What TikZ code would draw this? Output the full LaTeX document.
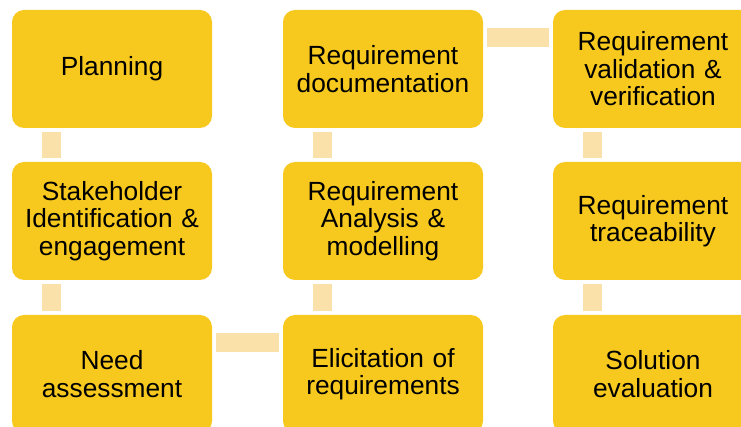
\documentclass[tikz,border=0pt]{standalone}
\usepackage{fontspec}
\setmainfont{Liberation Sans}
\usetikzlibrary{calc}

\definecolor{stageyellow}{HTML}{F7C91F}
\definecolor{linkbeige}{HTML}{FAE0A9}

\begin{document}
\begin{tikzpicture}[x=1pt, y=-1pt,
    stage/.style={rectangle, rounded corners=12pt, fill=stageyellow, minimum width=200pt, minimum height=118pt, inner sep=0pt, text width=198pt, align=center, font=\fontsize{26.3}{27.5}\selectfont},
    link/.style={draw=linkbeige, line width=19pt, shorten <=3.5pt, shorten >=3.5pt}]
                \useasboundingbox (0,0) rectangle (741,427);
                \clip (0,0) rectangle (741,427);
                \foreach \nm/\xc/\yc/\txt in {plan/112/69/Planning,
                                              stake/112/221/{Stakeholder\\Identification \&\\engagement},
                                              need/112/374/{Need\\assessment},
                                              elicit/383/374/{Elicitation of\\requirements},
                                              analysis/383/221/{Requirement\\Analysis \&\\modelling},
                                              docu/383/69/{Requirement\\documentation},
                                              valid/653/69/{Requirement\\validation \&\\verification},
                                              trace/653/221/{Requirement\\traceability},
                                              solution/653/374/{Solution\\evaluation}} {
                    \node[stage] (\nm) at (\xc,\yc) {\txt};
                }
                \foreach \a/\b in {plan/stake, stake/need, docu/analysis, analysis/elicit, valid/trace, trace/solution} {
                    \draw[link] ([xshift=40pt]\a.south west) -- ([xshift=40pt]\b.north west);
                }
                \draw[link] ([yshift=-28pt]need.north east) -- ([yshift=-28pt]elicit.north west);
                \draw[link] ([yshift=-28pt]docu.north east) -- ([yshift=-28pt]valid.north west);
            \end{tikzpicture}
\end{document}
